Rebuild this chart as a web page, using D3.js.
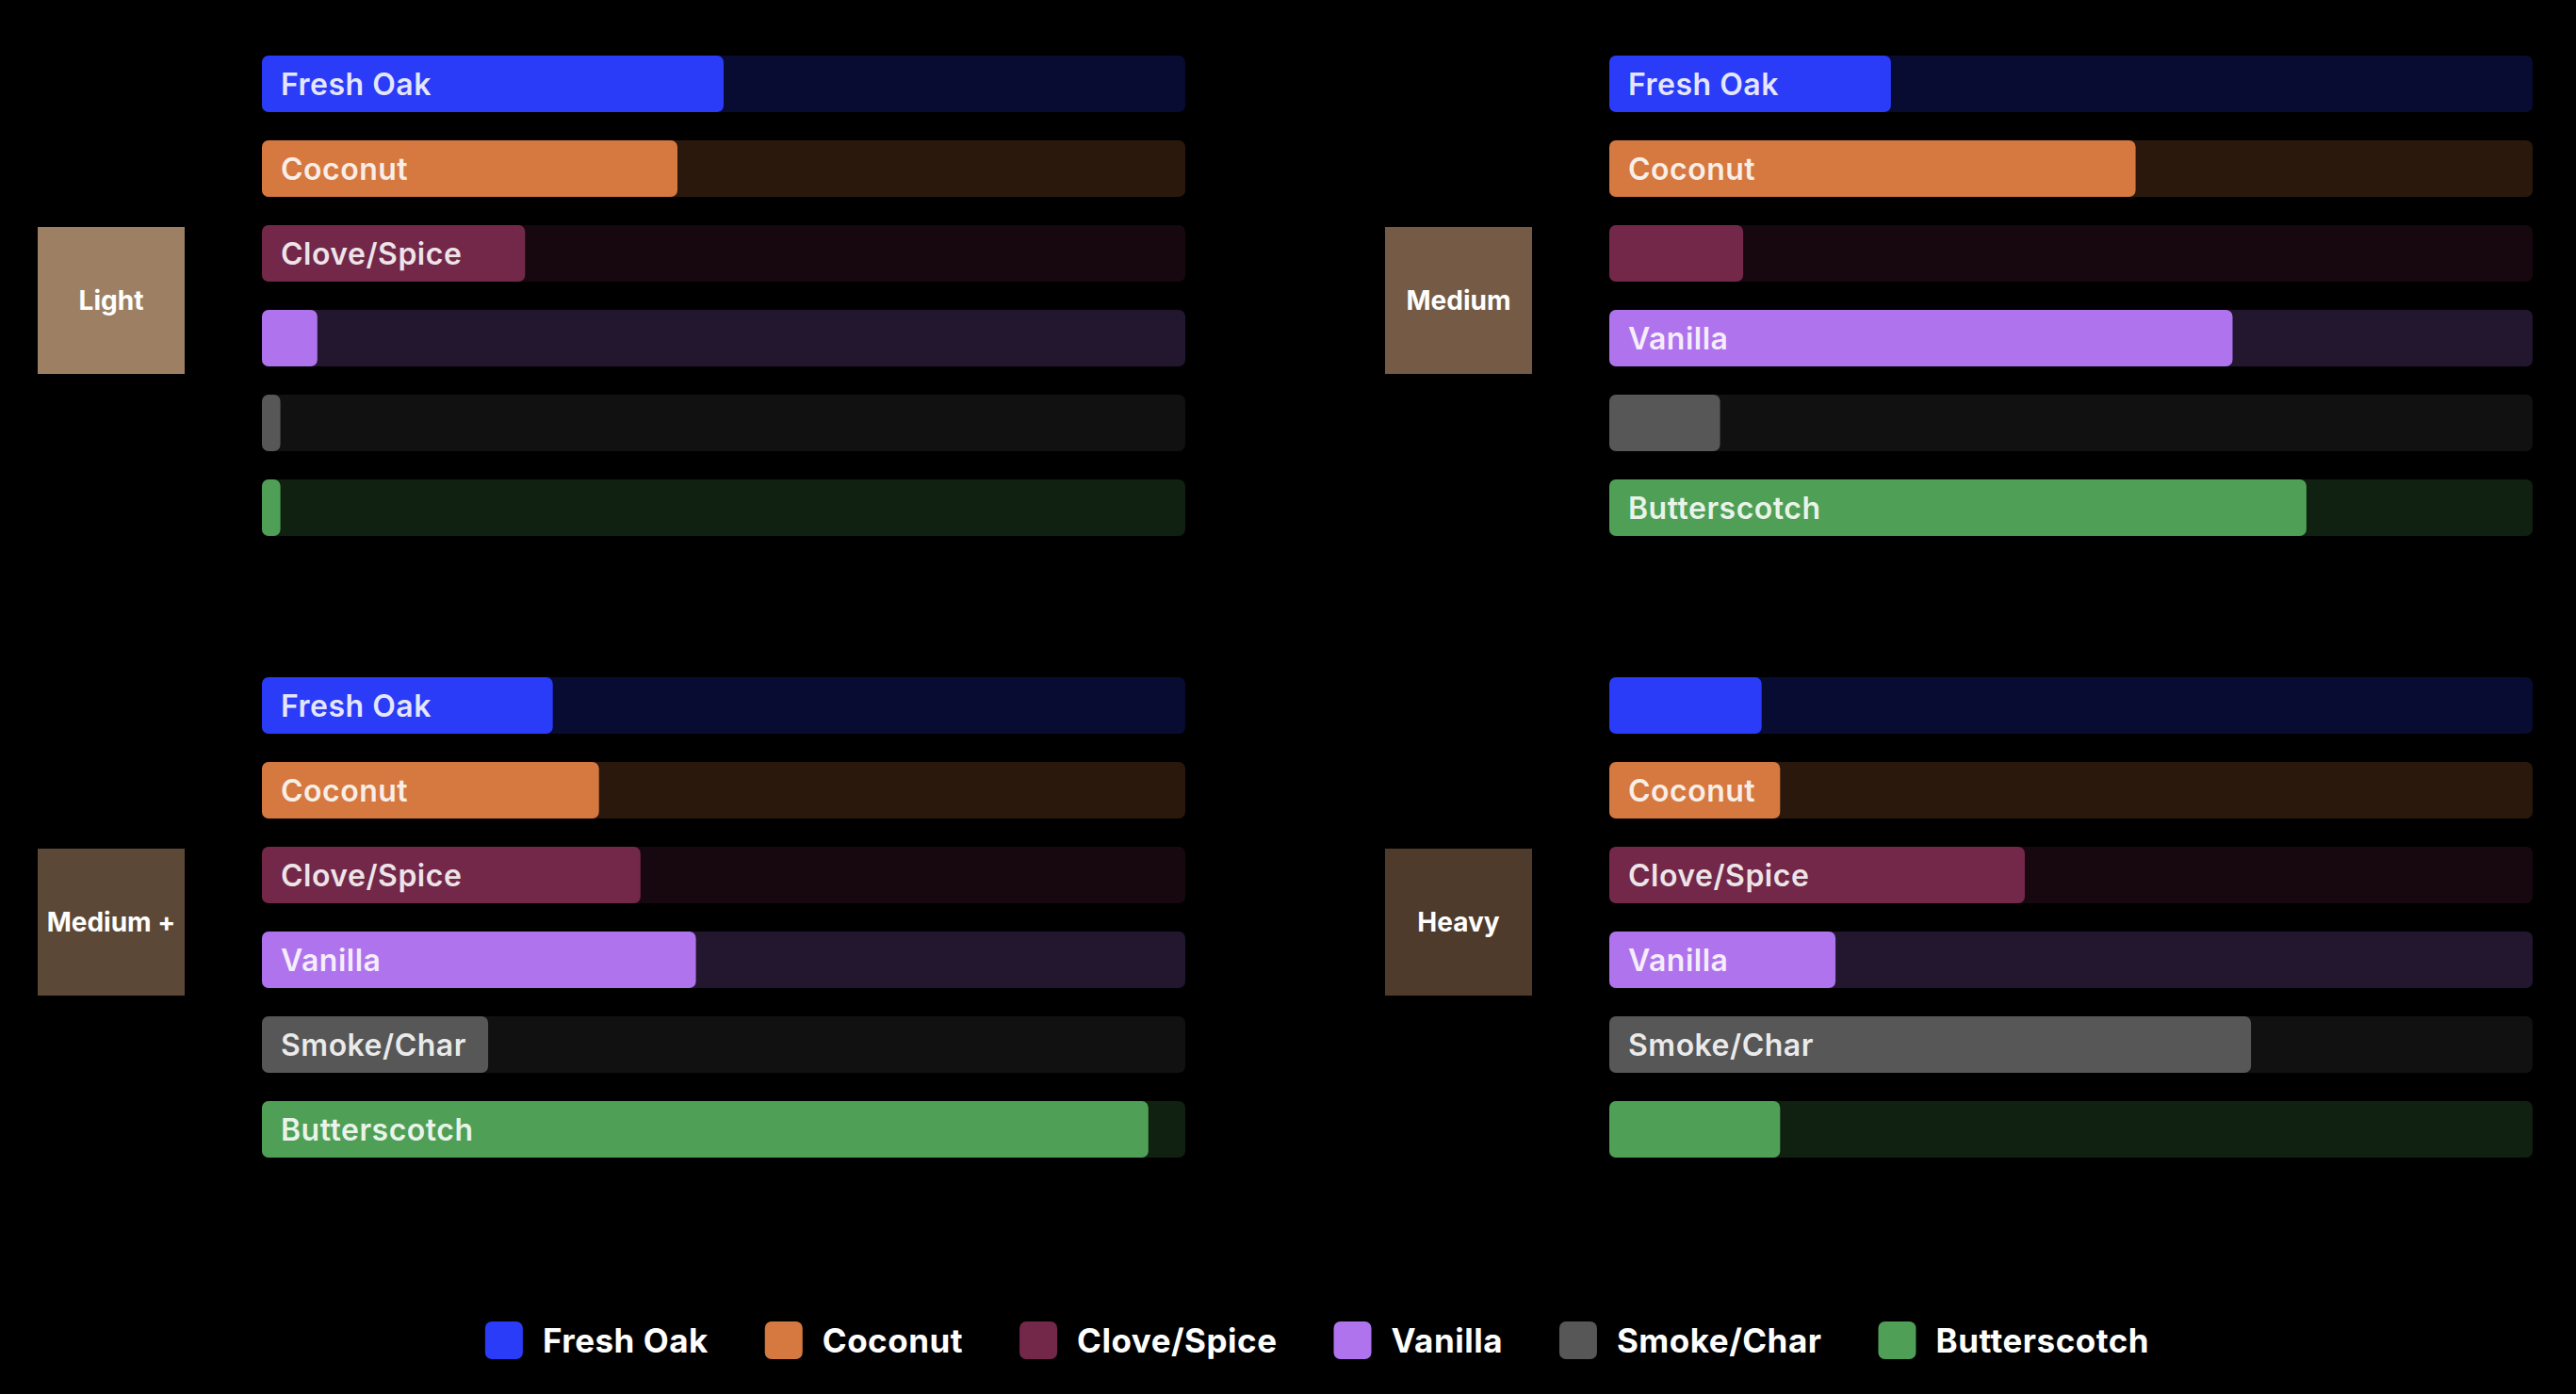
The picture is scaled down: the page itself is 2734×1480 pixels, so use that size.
<!DOCTYPE html>
<html>
<head>
<meta charset="utf-8">
<script src="https://cdn.jsdelivr.net/npm/d3@7"></script>
<style>
  html, body { margin: 0; padding: 0; background: #000; }
  svg { display: block; }
</style>
</head>
<body>
<svg id="chart" width="2734" height="1480"></svg>
<script>
// ---- data ----
const flavors = ["Fresh Oak", "Coconut", "Clove/Spice", "Vanilla", "Smoke/Char", "Butterscotch"];
const flavorColors = ["#2A3CF8", "#D67940", "#73284A", "#B073EE", "#575757", "#4FA056"];
const toastLevels = ["Light", "Medium", "Medium +", "Heavy"];
const toastColors = ["#9D8063", "#755A45", "#5C4837", "#4E3B2C"];
const lightValues   = [5.0, 4.5, 2.85, 0.6, 0.2, 0.2];
const mediumValues  = [3.05, 5.7, 1.45, 6.75, 1.2, 7.55];
const mediumPlusValues = [3.15, 3.65, 4.1, 4.7, 2.45, 9.6];
const heavyValues   = [1.65, 1.85, 4.5, 2.45, 6.95, 1.85];
const valueMax = 10;

const seriesByLevel = [lightValues, mediumValues, mediumPlusValues, heavyValues];

// ---- layout ----
const svg = d3.select("#chart");
svg.append("rect").attr("width", 2734).attr("height", 1480).attr("fill", "#000");

const panelOrigins = [[40, 59], [1470, 59], [40, 719], [1470, 719]];
const boxSize = 156, boxGap = 82, barWidth = 980;

const x = d3.scaleLinear().domain([0, valueMax]).range([0, barWidth]);
const y = d3.scaleBand().domain(flavors).range([0, 510]).paddingInner(1/3).paddingOuter(0);
const color = d3.scaleOrdinal().domain(flavors).range(flavorColors);

const FONT = "Inter, 'Open Sans', sans-serif";

seriesByLevel.forEach((vals, i) => {
  const [ox, oy] = panelOrigins[i];
  const g = svg.append("g");

  // toast label box
  const bx = ox, by = oy + 182;
  g.append("rect").attr("x", bx).attr("y", by).attr("width", boxSize).attr("height", boxSize)
    .attr("fill", toastColors[i]);
  g.append("text").attr("x", bx + boxSize / 2).attr("y", by + boxSize / 2)
    .attr("text-anchor", "middle").attr("dominant-baseline", "central")
    .attr("fill", "#fff").attr("font-family", FONT).attr("font-weight", 700)
    .attr("font-size", 28).text(toastLevels[i]);

  const bars = g.append("g").attr("transform", `translate(${ox + boxSize + boxGap},${oy})`);
  const data = flavors.map((f, k) => ({ flavor: f, value: vals[k] }));

  const rows = bars.selectAll("g.row").data(data).join("g").attr("class", "row")
    .attr("transform", d => `translate(0,${y(d.flavor)})`);

  rows.append("rect").attr("width", x(valueMax)).attr("height", y.bandwidth())
    .attr("rx", 7).attr("fill", d => color(d.flavor)).attr("fill-opacity", 0.2);

  rows.append("rect").attr("width", d => x(d.value)).attr("height", y.bandwidth())
    .attr("rx", 7).attr("fill", d => color(d.flavor));

  rows.append("text").attr("x", 20).attr("y", y.bandwidth() / 2)
    .attr("dominant-baseline", "central")
    .attr("fill", "#fff").attr("fill-opacity", 0.88)
    .attr("font-family", FONT).attr("font-weight", 600).attr("font-size", 32)
    .attr("letter-spacing", 0.5)
    .text(d => d.flavor)
    .each(function (d) {
      const w = this.getComputedTextLength();
      if (w + 30 > x(d.value)) d3.select(this).remove();
    });
});

// ---- legend ----
const legend = svg.append("g");
const items = legend.selectAll("g").data(flavors).join("g");
items.append("rect").attr("width", 40).attr("height", 40).attr("rx", 7).attr("y", -20)
  .attr("fill", d => color(d));
items.append("text").attr("x", 61).attr("y", 0).attr("dominant-baseline", "central")
  .attr("fill", "#fff").attr("font-family", FONT).attr("font-weight", 700)
  .attr("font-size", 35).attr("letter-spacing", 0.5).text(d => d);
let cx = 0;
items.each(function () {
  const t = d3.select(this).select("text").node().getComputedTextLength();
  d3.select(this).attr("transform", `translate(${cx},0)`);
  cx += 61 + t + 60;
});
const totalW = cx - 60;
legend.attr("transform", `translate(${1398 - totalW / 2},1423)`);
</script>
</body>
</html>
